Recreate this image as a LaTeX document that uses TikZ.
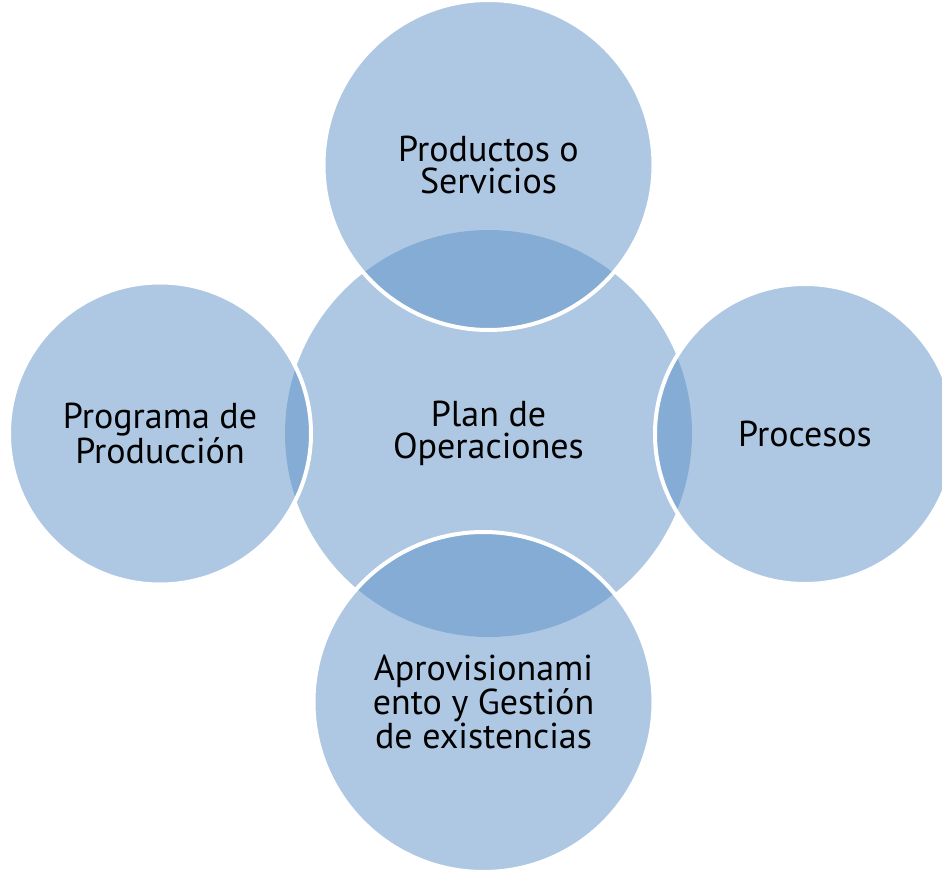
\documentclass[tikz,border=0pt]{standalone}
\usepackage{fontspec}
\setmainfont{PT Sans}
\definecolor{planblue}{RGB}{93,145,199}
\begin{document}
\begin{tikzpicture}[x=1pt,y=-1pt,font=\fontsize{36}{32.5}\selectfont,
 disc/.style={circle,fill=planblue,fill opacity=0.5,text opacity=1,align=center,inner sep=0pt},
 satellite/.style={disc,draw=white,draw opacity=1,line width=4pt}]
 \useasboundingbox (0,0) rectangle (942,870);
 \clip (0,0) rectangle (942,870);
 % centre first, the four around it on top
 \node[disc,minimum size=407pt] (plan) at (488.5,433.5) {Plan de\\Operaciones};
 \node[satellite,minimum size=330pt] (productos) at (488.5,165) {Productos o\\Servicios};
 \node[satellite,minimum size=300pt] (procesos) at (805,434) {Procesos};
 \node[satellite,minimum size=340pt] (aprov) at (483.5,702) {Aprovisionami\\ento y Gestión\\de existencias};
 \node[satellite,minimum size=302pt] (programa) at (160,433.5) {Programa de\\Producción};
\end{tikzpicture}
\end{document}
